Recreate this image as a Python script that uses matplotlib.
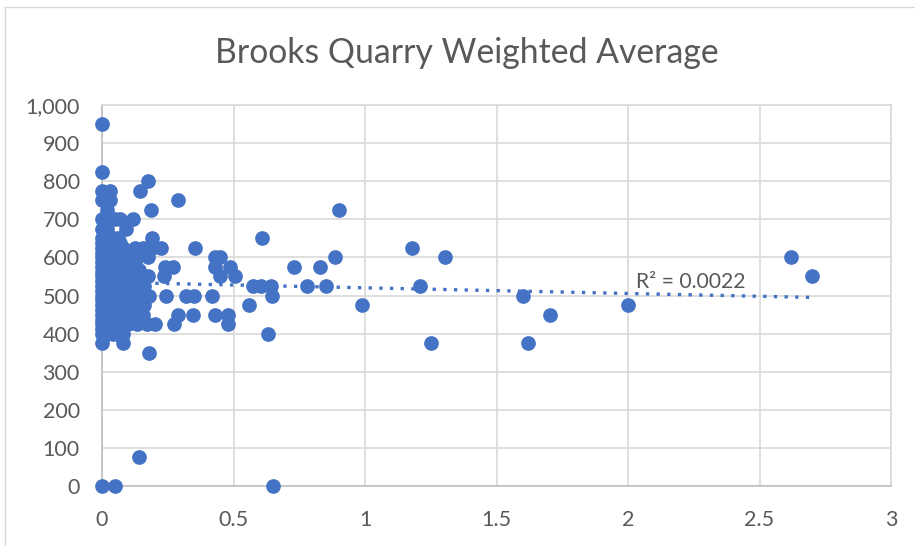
import matplotlib
matplotlib.use("Agg")
import matplotlib.pyplot as plt
from matplotlib.lines import Line2D

TITLE = "Brooks Quarry Weighted Average"
R2_LABEL = "R² = 0.0022"
X_TICKS = [0, 0.5, 1, 1.5, 2, 2.5, 3]
X_TICK_LABELS = ["0", "0.5", "1", "1.5", "2", "2.5", "3"]
Y_TICKS = list(range(0, 1001, 100))
Y_TICK_LABELS = ["0", "100", "200", "300", "400", "500", "600", "700", "800", "900", "1,000"]

# Sparse outer points
outer_x = [0, 0, 0, 0.03, 0, 0.03, 0.02, 0.05, 0.07, 0.118, 0.093, 0.175, 0.144, 0.187, 0.29,
           0.9, 0.61, 1.18, 0.354, 0.225, 0.19, 0.155, 0.125, 0.19, 0.175, 0.43, 0.45, 0.885,
           1.305, 2.62, 2.7, 0.24, 0.27, 0.43, 0.487, 0.73, 0.83, 0.234, 0.175, 0.45, 0.506,
           0.575, 0.605, 0.643, 0.78, 0.85, 1.21, 0.18, 0.243, 0.32, 0.35, 0.42, 0.647, 1.6,
           0.56, 0.99, 2.0, 0.155, 0.29, 0.347, 0.43, 0.48, 1.705, 0.133, 0.17, 0.2, 0.275,
           0.48, 0.63, 0.08, 0, 1.25, 1.62, 0.178, 0.14, 0, 0.05, 0.65]
outer_y = [950, 825, 775, 775, 750, 750, 725, 700, 700, 700, 675, 800, 775, 725, 750,
           725, 650, 625, 625, 625, 625, 625, 625, 650, 600, 600, 600, 600,
           600, 600, 550, 575, 575, 575, 575, 575, 575, 550, 550, 550, 550,
           525, 525, 525, 525, 525, 525, 500, 500, 500, 500, 500, 500, 500,
           475, 475, 475, 450, 450, 450, 450, 450, 450, 425, 425, 425, 425,
           425, 400, 375, 375, 375, 375, 350, 75, 0, 0, 0]

# Dense column near x = 0: x positions read per y level
row_700 = [0, 0.01]
row_675 = [0, 0.02]
row_650 = [0, 0.02, 0.04, 0.06]
row_637 = [0, 0.01, 0.03, 0.05, 0.07]
row_625 = [0, 0.02, 0.04, 0.06, 0.08]
row_612 = [0, 0.01, 0.03, 0.05, 0.07, 0.09]
row_600 = [0, 0.02, 0.04, 0.06, 0.08, 0.1, 0.125]
row_587 = [0, 0.01, 0.03, 0.05, 0.07, 0.09, 0.11, 0.125]
row_575 = [0, 0.02, 0.04, 0.06, 0.08, 0.1, 0.125]
row_562 = [0, 0.01, 0.03, 0.05, 0.07, 0.09, 0.11, 0.13]
row_550 = [0, 0.02, 0.04, 0.06, 0.08, 0.1, 0.125, 0.15]
row_537 = [0, 0.01, 0.03, 0.05, 0.07, 0.09, 0.11, 0.13, 0.15]
row_525 = [0, 0.02, 0.04, 0.06, 0.08, 0.1, 0.12, 0.14, 0.16]
row_512 = [0, 0.01, 0.03, 0.05, 0.07, 0.09, 0.11, 0.13, 0.15]
row_500 = [0, 0.02, 0.04, 0.06, 0.08, 0.1, 0.12, 0.14, 0.16]
row_487 = [0, 0.01, 0.03, 0.05, 0.07, 0.09, 0.11, 0.13, 0.15]
row_475 = [0, 0.02, 0.04, 0.06, 0.08, 0.1, 0.12, 0.14, 0.16]
row_462 = [0, 0.01, 0.03, 0.05, 0.07, 0.09, 0.11, 0.13, 0.15]
row_450 = [0, 0.02, 0.04, 0.06, 0.08, 0.1, 0.12, 0.135]
row_437 = [0, 0.01, 0.03, 0.05, 0.07, 0.09, 0.11, 0.125]
row_425 = [0, 0.02, 0.04, 0.06, 0.08, 0.1]
row_412 = [0, 0.01, 0.03, 0.05, 0.07]
row_400 = [0, 0.02, 0.04, 0.06, 0.08]
# Extra readings that close the solid block
row_593 = [0.04, 0.07, 0.1, 0.12]
row_568 = [0.04, 0.07, 0.1, 0.12, 0.14]
row_543 = [0.04, 0.07, 0.1, 0.12, 0.14]
row_518 = [0.04, 0.07, 0.1, 0.12, 0.14]
row_493 = [0.04, 0.07, 0.1, 0.12, 0.14]
row_468 = [0.04, 0.07, 0.1, 0.12, 0.14]
row_443 = [0.04, 0.07, 0.1, 0.12]
dense_rows = {700: row_700, 675: row_675, 650: row_650, 637: row_637, 625: row_625,
              612: row_612, 600: row_600, 593: row_593, 587: row_587, 575: row_575,
              568: row_568, 562: row_562, 550: row_550, 543: row_543, 537: row_537,
              525: row_525, 518: row_518, 512: row_512, 500: row_500, 493: row_493,
              487: row_487, 475: row_475, 468: row_468, 462: row_462, 450: row_450,
              443: row_443, 437: row_437, 425: row_425, 412: row_412, 400: row_400}

trend_x = [0, 2.7]
trend_y = [535, 495]

BLUE = "#4472C4"
GRID = "#D9D9D9"
TEXT = "#595959"
FONT = "Lato"

W, H = 915, 546
fig = plt.figure(figsize=(W / 100, H / 100), dpi=100, facecolor="white")
ax = fig.add_axes([102 / W, 1 - 486 / H, (891 - 102) / W, (486 - 105) / H])
ax.set_xlim(0, 3)
ax.set_ylim(0, 1000)
ax.set_xticks(X_TICKS, X_TICK_LABELS)
ax.set_yticks(Y_TICKS, Y_TICK_LABELS)
ax.grid(True, color=GRID, linewidth=1.2, zorder=0)
ax.set_axisbelow(True)
for s in ax.spines.values():
    s.set_color(GRID)
    s.set_linewidth(1.2)
ax.spines["bottom"].set_color("#BFBFBF")
ax.spines["left"].set_color("#BFBFBF")
ax.tick_params(axis="x", length=0, labelsize=15.5, labelcolor=TEXT, pad=17)
ax.tick_params(axis="y", length=0, labelsize=15.5, labelcolor=TEXT, pad=16)
for lab in ax.get_xticklabels() + ax.get_yticklabels():
    lab.set_fontfamily(FONT)

ax.plot(trend_x, trend_y, color=BLUE, linewidth=2.4, linestyle=(0, (1, 2.2)), zorder=2)

for y_val, xs in dense_rows.items():
    ax.scatter(xs, [y_val] * len(xs), s=112, color=BLUE, linewidths=0, zorder=3, clip_on=False)
ax.scatter(outer_x, outer_y, s=112, color=BLUE, linewidths=0, zorder=3, clip_on=False)

fig.text(467 / W, 1 - 53 / H, TITLE, ha="center", va="center", fontsize=24.3,
         color=TEXT, family=FONT)
fig.text(636 / W, 1 - 282 / H, R2_LABEL, ha="left", va="center", fontsize=15.2,
         color=TEXT, family=FONT)

# Outer chart frame, visible on the top and left edges
fig.add_artist(Line2D([4.5 / W, 4.5 / W], [0, 1 - 6.5 / H], color=GRID, linewidth=1))
fig.add_artist(Line2D([4.5 / W, 1], [1 - 6.5 / H, 1 - 6.5 / H], color=GRID, linewidth=1))

fig.savefig("out.png", dpi=100, facecolor="white")
